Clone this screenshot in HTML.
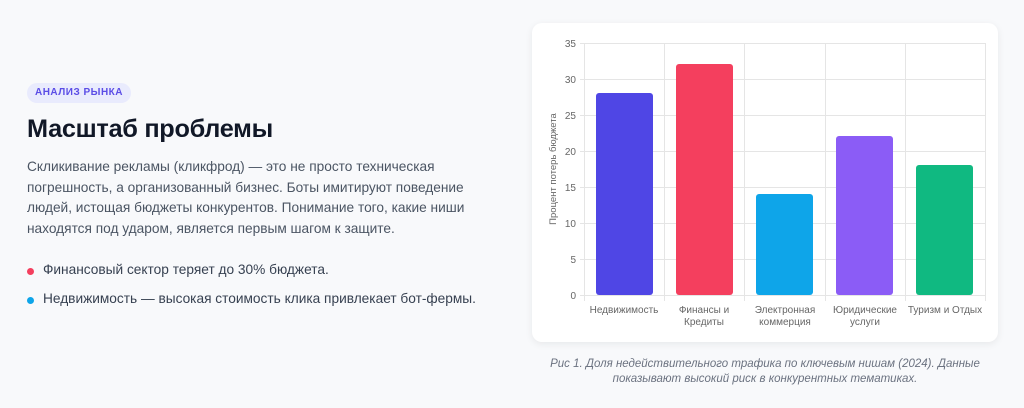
<!DOCTYPE html>
<html><head><meta charset="utf-8"><style>
body{margin:0;width:1024px;height:408px;background:#f8f9fb;font-family:"Liberation Sans",sans-serif;position:relative;overflow:hidden}
.badge{position:absolute;left:27px;top:83px;width:104px;height:20px;border-radius:10px;background:#e9ebfd;color:#5b4de6;font-size:10px;font-weight:bold;letter-spacing:.5px;line-height:20px;text-align:center}
h1{position:absolute;left:27px;top:115px;margin:0;font-size:25.3px;font-weight:bold;color:#111827;letter-spacing:-0.3px}
p{position:absolute;left:27px;top:157px;margin:0;width:470px;font-size:13.7px;line-height:20.7px;color:#4b5563}
.li{position:absolute;left:43px;font-size:13.7px;color:#374151}
.li:before{content:"";position:absolute;left:-16px;top:6px;width:7px;height:7px;border-radius:50%;background:var(--c)}
.card{position:absolute;left:532px;top:23px;width:466px;height:319px;background:#fff;border-radius:10px;box-shadow:0 2px 8px rgba(0,0,0,.07)}
.cap{position:absolute;left:520px;top:357px;width:490px;text-align:center;font-style:italic;font-size:11.5px;line-height:15px;color:#6b7280}
svg{position:absolute;left:0;top:0}
</style></head><body>
<div class="badge">АНАЛИЗ РЫНКА</div>
<h1>Масштаб проблемы</h1>
<p>Скликивание рекламы (кликфрод) — это не просто техническая погрешность, а организованный бизнес. Боты имитируют поведение людей, истощая бюджеты конкурентов. Понимание того, какие ниши находятся под ударом, является первым шагом к защите.</p>
<div class="li" style="top:262px;--c:#f43f5e">Финансовый сектор теряет до 30% бюджета.</div>
<div class="li" style="top:291px;--c:#0ea5e9">Недвижимость — высокая стоимость клика привлекает бот-фермы.</div>
<div class="card"></div>
<svg width="1024" height="408" font-family="Liberation Sans" font-size="10" fill="#666">
<g stroke="#e5e5e5" stroke-width="1">
<line x1="580" y1="43.5" x2="985" y2="43.5"/><line x1="580" y1="79.5" x2="985" y2="79.5"/><line x1="580" y1="115.5" x2="985" y2="115.5"/><line x1="580" y1="151.5" x2="985" y2="151.5"/><line x1="580" y1="187.5" x2="985" y2="187.5"/><line x1="580" y1="223.5" x2="985" y2="223.5"/><line x1="580" y1="259.5" x2="985" y2="259.5"/><line x1="580" y1="295.5" x2="985" y2="295.5"/>
<line x1="584.5" y1="43" x2="584.5" y2="301"/><line x1="664.5" y1="43" x2="664.5" y2="301"/><line x1="744.5" y1="43" x2="744.5" y2="301"/><line x1="825.5" y1="43" x2="825.5" y2="301"/><line x1="905.5" y1="43" x2="905.5" y2="301"/><line x1="985.5" y1="43" x2="985.5" y2="301"/>
</g>
<g text-anchor="end"><text x="576" y="47">35</text><text x="576" y="83">30</text><text x="576" y="119">25</text><text x="576" y="155">20</text><text x="576" y="191">15</text><text x="576" y="227">10</text><text x="576" y="263">5</text><text x="576" y="299">0</text></g>
<text transform="translate(556,169) rotate(-90)" text-anchor="middle" font-size="9.5">Процент потерь бюджета</text>
<rect x="596" y="93" width="57" height="202" rx="3" fill="#4f46e5"/>
<rect x="676" y="64" width="57" height="231" rx="3" fill="#f43f5e"/>
<rect x="756" y="194" width="57" height="101" rx="3" fill="#0ea5e9"/>
<rect x="836" y="136" width="57" height="159" rx="3" fill="#8b5cf6"/>
<rect x="916" y="165" width="57" height="130" rx="3" fill="#10b981"/>
<g text-anchor="middle"><text x="624" y="313">Недвижимость</text><text x="704" y="313">Финансы и</text><text x="704" y="325">Кредиты</text><text x="785" y="313">Электронная</text><text x="785" y="325">коммерция</text><text x="865" y="313">Юридические</text><text x="865" y="325">услуги</text><text x="945" y="313">Туризм и Отдых</text></g>
</svg>
<div class="cap">Рис 1. Доля недействительного трафика по ключевым нишам (2024). Данные<br>показывают высокий риск в конкурентных тематиках.</div>
</body></html>
